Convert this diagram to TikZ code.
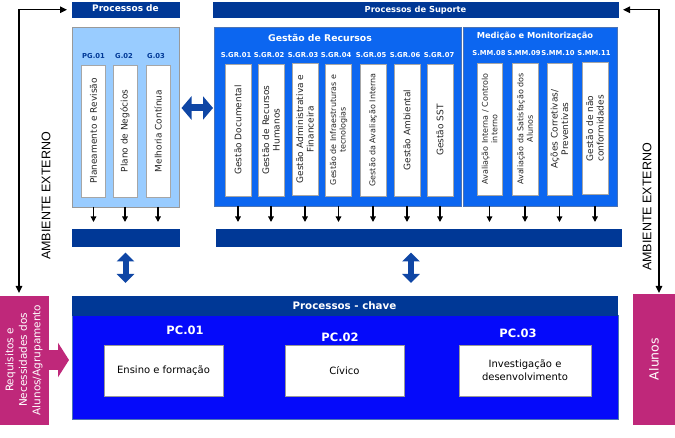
\documentclass[tikz,border=0pt]{standalone}
\usepackage{fontspec}
\setmainfont{DejaVu Sans}
\newfontfamily\arialf{Liberation Sans}
\usetikzlibrary{arrows.meta}
\definecolor{navy}{RGB}{0,56,150}
\definecolor{vblue}{RGB}{12,102,240}
\definecolor{lblue}{RGB}{153,204,255}
\definecolor{pblue}{RGB}{5,10,250}
\definecolor{pinkc}{RGB}{191,40,122}
\definecolor{dblc}{RGB}{15,70,165}
\tikzset{
  rect/.style={draw, inner sep=0pt, outer sep=0pt},
  hdr/.style={rect, draw=navy, fill=navy, text=white, font=\bfseries\fontsize{8.3}{10}\selectfont},
  hdrtxt/.style={text=white, inner sep=0pt, font=\bfseries\fontsize{9}{10}\selectfont},
  wbox/.style={rect, draw=black!35, fill=white, rotate=90, align=center, text=black!85, font=\fontsize{9}{10.5}\selectfont},
  wsmall/.style={font=\fontsize{8}{9.5}\selectfont},
  lab/.style={text=white, inner sep=0pt, font=\bfseries\fontsize{6.8}{8}\selectfont},
  ttl/.style={text=white, inner sep=0pt, font=\bfseries\fontsize{9.3}{11}\selectfont},
  pclab/.style={text=white, inner sep=0pt, font=\bfseries\fontsize{11.5}{13}\selectfont},
  bwbox/.style={rect, draw=black!40, fill=white, align=center, text=black, font=\fontsize{10}{13}\selectfont},
  smarr/.style={line width=1.3pt, -{Triangle[length=5.5pt,width=5.5pt]}, shorten >=7.5pt},
  conn/.style={line width=1.3pt, {Triangle[length=7pt,width=6.5pt]}-{Triangle[length=7pt,width=6.5pt]}},
  hdbl/.style={draw=dblc, line width=7pt, {Triangle[length=10pt,width=23pt]}-{Triangle[length=10pt,width=23pt]}},
  vdbl/.style={draw=dblc, line width=6pt, {Triangle[length=9pt,width=17pt]}-{Triangle[length=9pt,width=17pt]}},
  pinkarr/.style={draw=pinkc, line width=20pt, -{Triangle[length=11pt,width=34pt]}},
  amb/.style={rotate=90, inner sep=0pt, font=\arialf\fontsize{12.5}{14}\selectfont}
}
\begin{document}
\begin{tikzpicture}[x=1pt,y=-1pt]
\useasboundingbox (0,0) rectangle (675,438);
% top headers
\node[hdr, minimum width=107pt, minimum height=14.5pt] (pghdr) at (125.5,9.75) {};
\node[hdrtxt] (pghdrt) at (125.5,7.8) {Processos de};
\node[hdr, minimum width=405pt, minimum height=14.5pt] (suphdr) at (415.5,9.75) {Processos de Suporte};
% containers
\node[rect, draw=black!40, fill=lblue, minimum width=107pt, minimum height=180pt] (pgbox) at (125.5,117) {};
\node[rect, draw=navy!70, fill=vblue, minimum width=247.5pt, minimum height=179pt] (grbox) at (337.75,116.5) {};
\node[rect, draw=navy!70, fill=vblue, minimum width=153.5pt, minimum height=179pt] (mmbox) at (540.25,116.5) {};
\node[ttl] (grt) at (320,38) {Gestão de Recursos};
\node[ttl, font=\bfseries\fontsize{8.3}{10}\selectfont] (mmt) at (535,36) {Medição e Monitorização};
% PG
\node[lab, text=navy] (pgl1) at (93.5,56) {PG.01};
\node[lab, text=navy] (pgl2) at (124,56) {G.02};
\node[lab, text=navy] (pgl3) at (156,56) {G.03};
\node[wbox, minimum width=132pt, minimum height=24pt] (pg1) at (93.5,131) {Planeamento e Revisão};
\node[wbox, minimum width=132pt, minimum height=24pt] (pg2) at (125,131) {Plano de Negócios};
\node[wbox, minimum width=132pt, minimum height=24pt] (pg3) at (158,131) {Melhoria Contínua};
% GR
\node[lab] (grl1) at (236,55) {S.GR.01};
\node[lab] (grl2) at (269,55) {S.GR.02};
\node[lab] (grl3) at (303,55) {S.GR.03};
\node[lab] (grl4) at (336,55) {S.GR.04};
\node[lab] (grl5) at (371,55) {S.GR.05};
\node[lab] (grl6) at (405,55) {S.GR.06};
\node[lab] (grl7) at (439,55) {S.GR.07};
\node[wbox, minimum width=132pt, minimum height=26pt] (gr1) at (238,130) {Gestão Documental};
\node[wbox, minimum width=132pt, minimum height=26pt] (gr2) at (271,130) {Gestão de Recursos\\Humanos};
\node[wbox, minimum width=132pt, minimum height=26pt] (gr3) at (305,129) {Gestão Administrativa e\\Financeira};
\node[wbox, wsmall, minimum width=132pt, minimum height=26pt] (gr4) at (338.5,130) {Gestão de Infraestruturas e\\tecnologias};
\node[wbox, wsmall, minimum width=132pt, minimum height=26pt] (gr5) at (373,130) {Gestão da Avaliação Interna};
\node[wbox, minimum width=132pt, minimum height=26pt] (gr6) at (407,130) {Gestão Ambiental};
\node[wbox, minimum width=132pt, minimum height=26pt] (gr7) at (440,130) {Gestão SST};
% MM
\node[lab] (mml1) at (489,53) {S.MM.08};
\node[lab] (mml2) at (524,53) {S.MM.09};
\node[lab] (mml3) at (558,53) {S.MM.10};
\node[lab] (mml4) at (594,53) {S.MM.11};
\node[wbox, wsmall, minimum width=132pt, minimum height=25.5pt] (mm1) at (489.5,129) {Avaliação Interna / Controlo\\interno};
\node[wbox, wsmall, minimum width=132pt, minimum height=25.5pt] (mm2) at (525,129) {Avaliação da Satisfação dos\\Alunos};
\node[wbox, minimum width=132pt, minimum height=25.5pt] (mm3) at (559.5,129) {Ações Corretivas/\\Preventivas};
\node[wbox, minimum width=132pt, minimum height=25.5pt] (mm4) at (595,128.5) {Gestão de não\\conformidades};
% bars
\node[hdr, minimum width=107pt, minimum height=17pt] (barL) at (125.5,238) {};
\node[hdr, minimum width=405pt, minimum height=17pt] (barR) at (418.5,238) {};
% small arrows
\foreach \b in {pg1,pg2,pg3}{\draw[smarr] (\b.center |- pgbox.south) -- (\b.center |- barL.north);}
\foreach \b in {gr1,gr2,gr3,gr4,gr5,gr6,gr7}{\draw[smarr] (\b.center |- mmbox.south) -- (\b.center |- barR.north);}
\foreach \b in {mm1,mm2,mm3,mm4}{\draw[smarr] (\b.center |- mmbox.south) -- (\b.center |- barR.north);}
% key processes
\node[rect, draw=navy!70, fill=pblue, minimum width=546pt, minimum height=104pt] (bigbox) at (345,367) {};
\node[hdr, minimum width=545pt, minimum height=19pt, font=\bfseries\fontsize{10.3}{12}\selectfont] (hdr3) at (344.5,305.5) {Processos - chave};
\node[pclab] (pc1) at (185,330) {PC.01};
\node[pclab] (pc2) at (340,337) {PC.02};
\node[pclab] (pc3) at (518,333.5) {PC.03};
\node[bwbox, minimum width=119pt, minimum height=51pt] (wb1) at (163.5,370.5) {Ensino e formação};
\node[bwbox, minimum width=119pt, minimum height=51pt] (wb2) at (344.5,370.5) {Cívico};
\node[bwbox, minimum width=132pt, minimum height=51pt] (wb3) at (525,370.5) {Investigação e\\desenvolvimento};
% double arrows
\draw[hdbl, shorten <=2.5pt, shorten >=1pt] (pgbox.east |- 0,108) -- (grbox.west |- 0,108);
\draw[vdbl, shorten <=6pt, shorten >=13pt] (barL.south) -- (barL.south |- hdr3.north);
\coordinate (rv) at (411,250);
\draw[vdbl, shorten <=6pt, shorten >=13pt] (rv |- barR.south) -- (rv |- hdr3.north);
% pink side boxes
\node[rect, draw=pinkc, fill=pinkc, minimum width=48pt, minimum height=128pt, text=white, font=\fontsize{10.5}{14.5}\selectfont] (pinkL) at (24,360) {\rotatebox{90}{\begin{tabular}{@{}c@{}}Requisitos e\\[-1pt]Necessidades dos\\[-1pt]Alunos/Agrupamento\end{tabular}}};
\node[rect, draw=pinkc, fill=pinkc, minimum width=42pt, minimum height=130pt, text=white, font=\fontsize{12.5}{14}\selectfont] (alunos) at (654,359) {\rotatebox{90}{Alunos}};
\draw[pinkarr, shorten >=3pt] (pinkL.east) -- (pinkL.east -| bigbox.west);
% external connectors
\coordinate (lx) at (19,10);
\coordinate (rx) at (659,10);
\draw[conn, shorten <=5pt, shorten >=3pt] (pghdr.west) -| (lx |- pinkL.north);
\draw[conn, shorten <=5pt, shorten >=1pt] (suphdr.east) -| (rx |- alunos.north);
\node[amb] (ambL) at (46,196) {AMBIENTE EXTERNO};
\node[amb] (ambR) at (647,207) {AMBIENTE EXTERNO};
\end{tikzpicture}
\end{document}
